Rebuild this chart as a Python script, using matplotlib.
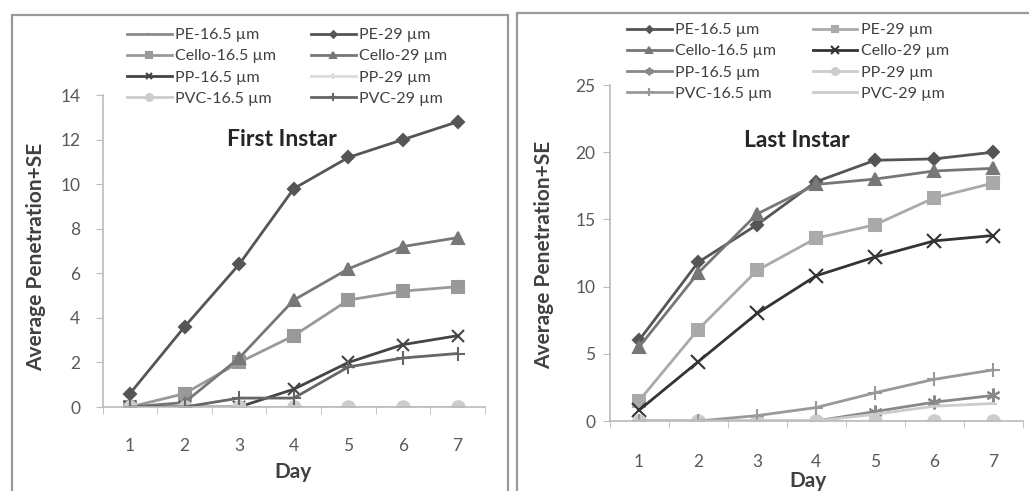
import matplotlib
matplotlib.use("Agg")
import matplotlib.pyplot as plt
from matplotlib.patches import Rectangle
import numpy as np

plt.rcParams["font.family"] = ["Lato", "DejaVu Sans"]

days = [1, 2, 3, 4, 5, 6, 7]

# first instar
first_pe_165 = [0, 0, 0, 0, 0, 0, 0]
first_pe_29 = [0.6, 3.6, 6.4, 9.8, 11.2, 12.0, 12.8]
first_cello_165 = [0, 0.6, 2.0, 3.2, 4.8, 5.2, 5.4]
first_cello_29 = [0, 0.2, 2.2, 4.8, 6.2, 7.2, 7.6]
first_pp_165 = [0, 0, 0, 0.8, 2.0, 2.8, 3.2]
first_pp_29 = [0, 0, 0, 0, 0, 0, 0]
first_pvc_165 = [0, 0, 0, 0, 0, 0, 0]
first_pvc_29 = [0, 0, 0.4, 0.4, 1.8, 2.2, 2.4]

# last instar
last_pe_165 = [6.0, 11.8, 14.6, 17.8, 19.4, 19.5, 20.0]
last_pe_29 = [1.5, 6.8, 11.2, 13.6, 14.6, 16.6, 17.7]
last_cello_165 = [5.5, 11.0, 15.4, 17.6, 18.0, 18.6, 18.8]
last_cello_29 = [0.8, 4.4, 8.0, 10.8, 12.2, 13.4, 13.8]
last_pp_165 = [0, 0, 0, 0, 0.7, 1.4, 1.9]
last_pp_29 = [0, 0, 0, 0, 0, 0, 0]
last_pvc_165 = [0, 0, 0.4, 1.0, 2.1, 3.1, 3.8]
last_pvc_29 = [0, 0, 0, 0, 0.5, 1.1, 1.3]

labels = ["PE-16.5 µm", "PE-29 µm", "Cello-16.5 µm", "Cello-29 µm",
          "PP-16.5 µm", "PP-29 µm", "PVC-16.5 µm", "PVC-29 µm"]

first_styles = [
    ("#8c8c8c", "_", 6),
    ("#555555", "D", 6),
    ("#999999", "s", 9),
    ("#777777", "^", 9),
    ("#444444", "x", 9),
    ("#dddddd", "+", 9),
    ("#cccccc", "o", 9),
    ("#666666", "+", 10),
]
last_styles = [
    ("#555555", "D", 6),
    ("#aaaaaa", "s", 9),
    ("#777777", "^", 9),
    ("#333333", "x", 10),
    ("#888888", (6, 2, 0), 10),
    ("#cccccc", "o", 9),
    ("#999999", "+", 10),
    ("#cccccc", "_", 6),
]

W, H = 1029, 491
fig = plt.figure(figsize=(W / 100, H / 100), dpi=100)

# chart frames
fig.patches.append(Rectangle((12 / W, -0.1), 496 / W, 1.1 - 15 / H, transform=fig.transFigure,
                             fill=False, ec="#9a9a9a", lw=1.6))
fig.patches.append(Rectangle((517 / W, -0.1), 0.6, 1.1 - 13 / H, transform=fig.transFigure,
                             fill=False, ec="#9a9a9a", lw=1.6))


def drawPanel(rect, series, styles, ymax, ystep, title, title_pos, ylab_pos, xlab_pos,
              leg_anchor, xpad, ypad, colsp):
	ax = fig.add_axes(rect)
	lines = []
	for vals, (c, m, ms), lab in zip(series, styles, labels):
		ln, = ax.plot(days, vals, color=c, marker=m, ms=ms, lw=2.0, mew=1.5, label=lab)
		lines.append(ln)
	ax.set_xlim(0.5, 7.5)
	ax.set_ylim(0, ymax)
	ax.set_yticks(np.arange(0, ymax + 0.1, ystep))
	ax.set_xticks(days)
	ax.set_xticks(np.arange(0.5, 8, 1), minor=True)
	ax.tick_params(axis="x", which="major", length=0, pad=xpad, labelsize=12.5, labelcolor="#595959")
	ax.tick_params(axis="x", which="minor", length=5, color="#bbbbbb", direction="out")
	ax.tick_params(axis="y", length=5, color="#bbbbbb", pad=ypad, labelsize=12.5, labelcolor="#595959")
	for s in ["top", "right"]:
		ax.spines[s].set_visible(False)
	for s in ["left", "bottom"]:
		ax.spines[s].set_color("#bbbbbb")
		ax.spines[s].set_linewidth(1.2)
	ax.set_ylabel("Average Penetration+SE", fontsize=15, fontweight="bold", color="#404040", va="center")
	ax.yaxis.set_label_coords(*ylab_pos)
	ax.set_xlabel("Day", fontsize=15, fontweight="bold", color="#404040", va="center")
	ax.xaxis.set_label_coords(*xlab_pos)
	ax.text(title_pos[0], title_pos[1], title, transform=ax.transAxes, ha="center", va="center",
	        fontsize=16.5, fontweight="bold", color="#262626")
	order = [0, 2, 4, 6, 1, 3, 5, 7]
	fig.legend([lines[i] for i in order], [labels[i] for i in order], ncol=2, loc="upper left",
	           bbox_to_anchor=leg_anchor, frameon=False, fontsize=11.5, handlelength=2.8,
	           handletextpad=0.2, columnspacing=colsp, labelspacing=0.44, borderpad=0,
	           borderaxespad=0, markerscale=0.55, labelcolor="#404040")
	return ax


drawPanel([102.6 / W, 84 / H, 382.4 / W, 312 / H],
          [first_pe_165, first_pe_29, first_cello_165, first_cello_29,
           first_pp_165, first_pp_29, first_pvc_165, first_pvc_29],
          first_styles, 14, 2, "First Instar", (0.469, 0.856), (-0.174, 0.481), (0.498, -0.208),
          (127 / W, 1 - 28 / H), 22, 11, 2.2)

drawPanel([609.5 / W, 70 / H, 413 / W, 336 / H],
          [last_pe_165, last_pe_29, last_cello_165, last_cello_29,
           last_pp_165, last_pp_29, last_pvc_165, last_pvc_29],
          last_styles, 25, 5, "Last Instar", (0.454, 0.836), (-0.159, 0.494), (0.48, -0.179),
          (627 / W, 1 - 23 / H), 24, 5, 2.3)

fig.savefig("out.png", dpi=100)
